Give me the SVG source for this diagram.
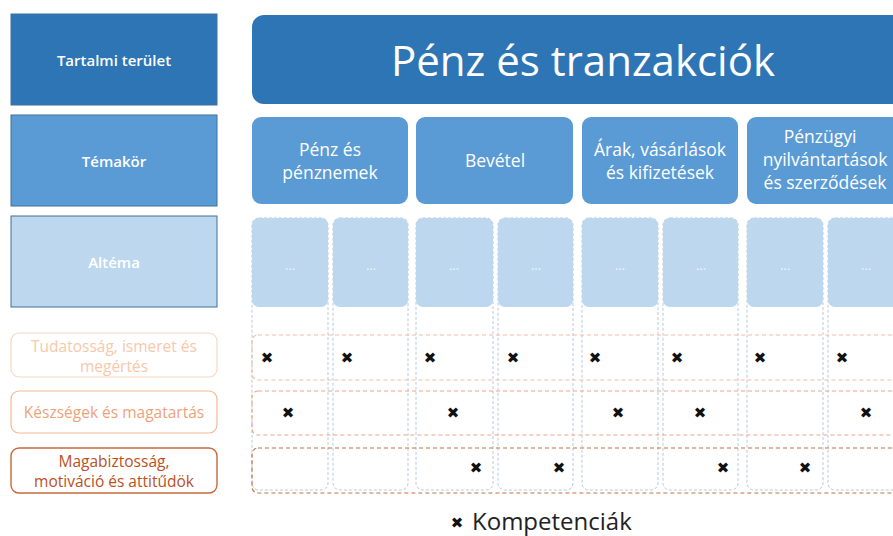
<svg xmlns="http://www.w3.org/2000/svg" width="893" height="536" viewBox="0 0 893 536">
<style>
text{font-family:"Open Sans","Noto Sans","Liberation Sans",sans-serif}
.w{fill:#fff;text-anchor:middle}
.lbl{font-size:15px;font-weight:600}
.top{font-size:17.5px}
.dark{fill:#2e75b6}
.mid{fill:#5b9bd5}
.light{fill:#bdd7ee}
.lb{stroke:#41719c;stroke-width:1}
.col{fill:#fff;stroke:#b8c8da;stroke-width:1;stroke-dasharray:3 2}
.r1{fill:none;stroke:#f5b9a3;stroke-width:1.2;stroke-dasharray:4 3}
.r2{fill:none;stroke:#f0a486;stroke-width:1.2;stroke-dasharray:4 3}
.r3{fill:none;stroke:#c4733f;stroke-width:1.2;stroke-dasharray:4 3}
.x{font-family:"DejaVu Sans",sans-serif;font-size:15px;fill:#111;text-anchor:middle}
.dots{fill:#eef5fc;font-size:13px;text-anchor:middle}
.o{font-size:15.5px;text-anchor:middle}
</style>
<rect width="893" height="536" fill="#fff"/>
<g id="legend-left">
<g id="tartalmi"><rect x="11" y="14" width="206" height="91" class="dark lb"/><text x="114" y="66" class="w lbl">Tartalmi terület</text></g>
<g id="temakor"><rect x="11" y="115" width="206" height="91" class="mid lb"/><text x="114" y="167" class="w lbl">Témakör</text></g>
<g id="altema"><rect x="11" y="216" width="206" height="91" class="light lb"/><text x="114" y="268" class="w lbl">Altéma</text></g>
<g id="tudatossag"><rect x="11" y="333" width="206" height="44" rx="8" fill="#fff" stroke="#f9d6c2" stroke-width="1.2"/><text x="114" y="352" class="o" fill="#f7c8aa">Tudatosság, ismeret és</text><text x="114" y="372" class="o" fill="#f7c8aa">megértés</text></g>
<g id="keszsegek"><rect x="11" y="391" width="206" height="42" rx="8" fill="#fff" stroke="#f2b894" stroke-width="1.2"/><text x="114" y="418" class="o" fill="#eea27a">Készségek és magatartás</text></g>
<g id="magabiztossag"><rect x="11" y="448" width="206" height="45" rx="8" fill="#fff" stroke="#c8693a" stroke-width="1.4"/><text x="114" y="467" class="o" fill="#b9501e">Magabiztosság,</text><text x="114" y="487" class="o" fill="#b9501e">motiváció és attitűdök</text></g>
</g>
<g id="title"><rect x="252" y="15" width="660" height="89" rx="12" class="dark"/><text x="583" y="76" font-size="42" class="w">Pénz és tranzakciók</text></g>
<g id="topics">
<g id="t1"><rect x="252" y="117" width="156" height="87" rx="9" class="mid"/><text x="330" y="156" class="w top">Pénz és</text><text x="330" y="179" class="w top">pénznemek</text></g>
<g id="t2"><rect x="416" y="117" width="157" height="87" rx="9" class="mid"/><text x="495" y="167" class="w top" font-size="18.5">Bevétel</text></g>
<g id="t3"><rect x="582" y="117" width="156" height="87" rx="9" class="mid"/><text x="660" y="156" class="w top">Árak, vásárlások</text><text x="660" y="179" class="w top">és kifizetések</text></g>
<g id="t4"><rect x="747" y="117" width="160" height="87" rx="9" class="mid"/><text x="820" y="143" class="w top">Pénzügyi</text><text x="825" y="166" class="w top">nyilvántartások</text><text x="825" y="189" class="w top">és szerződések</text></g>
</g>
<g id="columns">
<rect x="252" y="218" width="76" height="272" rx="7" class="col"/>
<rect x="333" y="218" width="75" height="272" rx="7" class="col"/>
<rect x="416" y="218" width="77" height="272" rx="7" class="col"/>
<rect x="498" y="218" width="75" height="272" rx="7" class="col"/>
<rect x="582" y="218" width="76" height="272" rx="7" class="col"/>
<rect x="663" y="218" width="75" height="272" rx="7" class="col"/>
<rect x="747" y="218" width="76" height="272" rx="7" class="col"/>
<rect x="828" y="218" width="76" height="272" rx="7" class="col"/>
</g>
<g id="subtopics">
<g id="s1"><rect x="252" y="218" width="76" height="89" rx="7" class="light"/><text x="290" y="270" class="dots">...</text></g>
<g id="s2"><rect x="333" y="218" width="75" height="89" rx="7" class="light"/><text x="371" y="270" class="dots">...</text></g>
<g id="s3"><rect x="416" y="218" width="77" height="89" rx="7" class="light"/><text x="454" y="270" class="dots">...</text></g>
<g id="s4"><rect x="498" y="218" width="75" height="89" rx="7" class="light"/><text x="536" y="270" class="dots">...</text></g>
<g id="s5"><rect x="582" y="218" width="76" height="89" rx="7" class="light"/><text x="620" y="270" class="dots">...</text></g>
<g id="s6"><rect x="663" y="218" width="75" height="89" rx="7" class="light"/><text x="701" y="270" class="dots">...</text></g>
<g id="s7"><rect x="747" y="218" width="76" height="89" rx="7" class="light"/><text x="785" y="270" class="dots">...</text></g>
<g id="s8"><rect x="828" y="218" width="76" height="89" rx="7" class="light"/><text x="866" y="270" class="dots">...</text></g>
</g>
<g id="rows">
<rect x="252" y="335" width="660" height="45" rx="6" class="r1"/>
<rect x="252" y="391" width="660" height="44" rx="6" class="r2"/>
<rect x="252" y="448" width="660" height="45" rx="6" class="r3"/>
</g>
<g id="marks">
<text x="267" y="363" class="x">✖</text><text x="347" y="363" class="x">✖</text><text x="430" y="363" class="x">✖</text><text x="513" y="363" class="x">✖</text><text x="595" y="363" class="x">✖</text><text x="677" y="363" class="x">✖</text><text x="760" y="363" class="x">✖</text><text x="842" y="363" class="x">✖</text>
<text x="288" y="418" class="x">✖</text><text x="453" y="418" class="x">✖</text><text x="618" y="418" class="x">✖</text><text x="700" y="418" class="x">✖</text><text x="866" y="418" class="x">✖</text>
<text x="476" y="473" class="x">✖</text><text x="559" y="473" class="x">✖</text><text x="723" y="473" class="x">✖</text><text x="805" y="473" class="x">✖</text>
</g>
<g id="legend"><text x="457" y="528" class="x" font-size="13">✖</text><text x="472" y="530" font-size="24" fill="#222">Kompetenciák</text></g>
</svg>
